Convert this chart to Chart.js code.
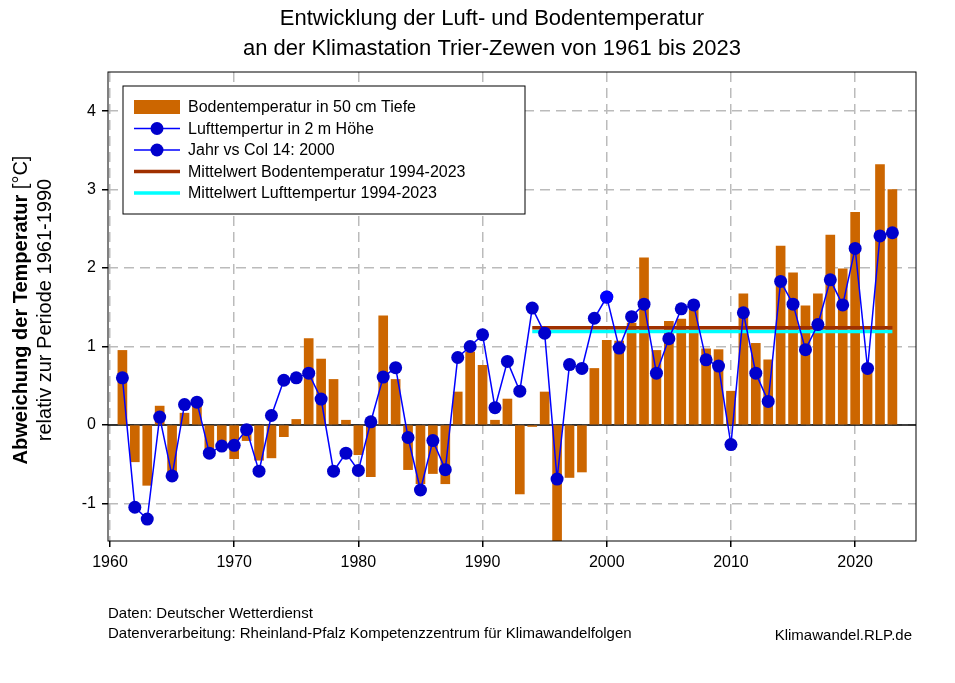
<!DOCTYPE html>
<html>
<head>
<meta charset="utf-8">
<script src="https://cdn.jsdelivr.net/npm/chart.js@4"></script>
<style>
  body { margin: 0; background: #fff; }
  #wrap { width: 955px; height: 683px; }
</style>
</head>
<body>
<div id="wrap"><canvas id="chart"></canvas></div>
<script>
const years = [];
for (let y = 1961; y <= 2023; y++) years.push(y);

const soilTemp = [0.95, -0.47, -0.77, 0.24, -0.6, 0.15, 0.3, -0.3, -0.25, -0.43,
  -0.2, -0.45, -0.42, -0.15, 0.07, 1.1, 0.84, 0.58, 0.06, -0.38,
  -0.66, 1.39, 0.58, -0.57, -0.75, -0.62, -0.75, 0.42, 0.93, 0.76,
  0.06, 0.33, -0.88, -0.02, 0.42, -1.48, -0.67, -0.6, 0.72, 1.08,
  1.07, 1.3, 2.13, 0.95, 1.32, 1.35, 1.47, 0.97, 0.96, 0.43,
  1.67, 1.04, 0.83, 2.28, 1.94, 1.52, 1.67, 2.42, 1.99, 2.71,
  0.7, 3.32, 3.0];

const airTemp = [0.6, -1.05, -1.2, 0.1, -0.65, 0.26, 0.29, -0.36, -0.27, -0.26,
  -0.06, -0.59, 0.12, 0.57, 0.6, 0.66, 0.33, -0.59, -0.36, -0.58,
  0.04, 0.61, 0.73, -0.16, -0.83, -0.2, -0.57, 0.86, 1.0, 1.15,
  0.22, 0.81, 0.43, 1.49, 1.17, -0.69, 0.77, 0.72, 1.36, 1.63,
  0.98, 1.38, 1.54, 0.66, 1.1, 1.48, 1.53, 0.83, 0.75, -0.25,
  1.43, 0.66, 0.3, 1.83, 1.54, 0.96, 1.28, 1.85, 1.53, 2.25,
  0.72, 2.41, 2.45];

const meanPeriod = [1994, 2023];
const meanSoil = 1.24;
const meanAir = 1.19;

const labels = {
  title1: 'Entwicklung der Luft- und Bodentemperatur',
  title2: 'an der Klimastation Trier-Zewen von 1961 bis 2023',
  source1: 'Daten: Deutscher Wetterdienst',
  source2: 'Datenverarbeitung: Rheinland-Pfalz Kompetenzzentrum für Klimawandelfolgen',
  site: 'Klimawandel.RLP.de'
};

const legendItems = [
  { type: 'bar', color: '#cc6600', text: 'Bodentemperatur in 50 cm Tiefe' },
  { type: 'point', color: '#0000cc', text: 'Lufttempertur in 2 m Höhe' },
  { type: 'point', color: '#0000cc', text: 'Jahr vs Col 14: 2000' },
  { type: 'line', color: '#a03000', text: 'Mittelwert Bodentemperatur 1994-2023' },
  { type: 'line', color: '#00ffff', text: 'Mittelwert Lufttempertur 1994-2023' }
];

const font = 'Arial, "Liberation Sans", sans-serif';

const decor = {
  id: 'decor',
  beforeDatasetsDraw(chart) {
    const { ctx, chartArea: a, scales: { y } } = chart;
    ctx.save();
    ctx.strokeStyle = '#000';
    ctx.lineWidth = 1.5;
    ctx.beginPath();
    ctx.moveTo(a.left, y.getPixelForValue(0));
    ctx.lineTo(a.right, y.getPixelForValue(0));
    ctx.stroke();
    ctx.restore();
  },
  afterDraw(chart) {
    const { ctx, chartArea: a } = chart;
    ctx.save();
    ctx.strokeStyle = '#000';
    ctx.lineWidth = 1;
    ctx.strokeRect(a.left, a.top, a.right - a.left, a.bottom - a.top);

    ctx.fillStyle = '#000';
    ctx.textAlign = 'center';
    ctx.textBaseline = 'alphabetic';
    ctx.font = '22px ' + font;
    ctx.fillText(labels.title1, 492, 25);
    ctx.fillText(labels.title2, 492, 55);

    // y-axis title
    ctx.save();
    ctx.translate(27, 310);
    ctx.rotate(-Math.PI / 2);
    const boldPart = 'Abweichung der Temperatur';
    const normPart = ' [°C]';
    ctx.font = 'bold 20px ' + font;
    const wb = ctx.measureText(boldPart).width;
    ctx.font = '20px ' + font;
    const wn = ctx.measureText(normPart).width;
    ctx.textAlign = 'left';
    ctx.font = 'bold 20px ' + font;
    ctx.fillText(boldPart, -(wb + wn) / 2, 0);
    ctx.font = '20px ' + font;
    ctx.fillText(normPart, -(wb + wn) / 2 + wb, 0);
    ctx.textAlign = 'center';
    ctx.fillText('relativ zur Periode 1961-1990', 0, 24);
    ctx.restore();

    // legend
    ctx.fillStyle = '#fff';
    ctx.fillRect(123, 86, 402, 128);
    ctx.strokeStyle = '#000';
    ctx.lineWidth = 1;
    ctx.strokeRect(123, 86, 402, 128);
    ctx.font = '16px ' + font;
    ctx.textAlign = 'left';
    ctx.textBaseline = 'middle';
    legendItems.forEach((it, i) => {
      const cy = 107 + i * 21.5;
      if (it.type === 'bar') {
        ctx.fillStyle = it.color;
        ctx.fillRect(134, cy - 7, 46, 14);
      } else if (it.type === 'point') {
        ctx.strokeStyle = '#0000ff';
        ctx.lineWidth = 1.5;
        ctx.beginPath(); ctx.moveTo(134, cy); ctx.lineTo(180, cy); ctx.stroke();
        ctx.fillStyle = it.color;
        ctx.beginPath(); ctx.arc(157, cy, 6.5, 0, Math.PI * 2); ctx.fill();
      } else {
        ctx.strokeStyle = it.color;
        ctx.lineWidth = 3.5;
        ctx.beginPath(); ctx.moveTo(134, cy); ctx.lineTo(180, cy); ctx.stroke();
      }
      ctx.fillStyle = '#000';
      ctx.fillText(it.text, 188, cy + 1);
    });

    // footer
    ctx.font = '15px ' + font;
    ctx.textBaseline = 'alphabetic';
    ctx.fillText(labels.source1, 108, 618);
    ctx.fillText(labels.source2, 108, 638);
    ctx.textAlign = 'right';
    ctx.fillText(labels.site, 912, 640);
    ctx.restore();
  }
};

new Chart(document.getElementById('chart'), {
  data: {
    datasets: [
      {
        type: 'line',
        label: 'Jahr vs Col 14: 2000',
        data: [{ x: 2000, y: airTemp[years.indexOf(2000)] }],
        showLine: false,
        pointRadius: 6.5,
        pointBackgroundColor: '#0000ff',
        pointBorderWidth: 0,
        order: 0
      },
      {
        type: 'line',
        label: 'Lufttempertur in 2 m Höhe',
        data: years.map((x, i) => ({ x, y: airTemp[i] })),
        borderColor: '#0000ff',
        borderWidth: 1.5,
        pointRadius: 6.5,
        pointBackgroundColor: '#0000cc',
        pointBorderWidth: 0,
        tension: 0,
        order: 1
      },
      {
        type: 'line',
        label: 'Mittelwert Bodentemperatur 1994-2023',
        data: meanPeriod.map(x => ({ x, y: meanSoil })),
        borderColor: '#a03000',
        borderWidth: 3.5,
        pointRadius: 0,
        order: 2
      },
      {
        type: 'line',
        label: 'Mittelwert Lufttempertur 1994-2023',
        data: meanPeriod.map(x => ({ x, y: meanAir })),
        borderColor: '#00ffff',
        borderWidth: 3.5,
        pointRadius: 0,
        order: 2
      },
      {
        type: 'bar',
        label: 'Bodentemperatur in 50 cm Tiefe',
        data: years.map((x, i) => ({ x, y: soilTemp[i] })),
        backgroundColor: '#cc6600',
        barThickness: 9,
        order: 3
      }
    ]
  },
  options: {
    responsive: true,
    maintainAspectRatio: false,
    animation: false,
    layout: { padding: { left: 68, top: 72, right: 39, bottom: 112 } },
    plugins: { legend: { display: false }, tooltip: { enabled: false } },
    scales: {
      x: {
        type: 'linear',
        offset: false,
        min: 1959.84,
        max: 2024.9,
        afterFit(s) { s.height = 30; },
        afterBuildTicks(s) { s.ticks = [1960, 1970, 1980, 1990, 2000, 2010, 2020].map(v => ({ value: v })); },
        ticks: { color: '#000', font: { size: 16, family: font }, callback: v => String(v), padding: 6 },
        grid: { offset: false, color: '#bbb', lineWidth: 1.5, tickLength: 6, tickColor: '#000' },
        border: { display: false, dash: [10, 6] }
      },
      y: {
        min: -1.48,
        max: 4.5,
        afterFit(s) { s.width = 40; },
        afterBuildTicks(s) { s.ticks = [-1, 0, 1, 2, 3, 4].map(v => ({ value: v })); },
        ticks: { color: '#000', font: { size: 16, family: font }, padding: 6 },
        grid: { color: '#bbb', lineWidth: 1.5, tickLength: 6, tickColor: '#000' },
        border: { display: false, dash: [10, 6] }
      }
    }
  },
  plugins: [decor]
});
</script>
</body>
</html>
